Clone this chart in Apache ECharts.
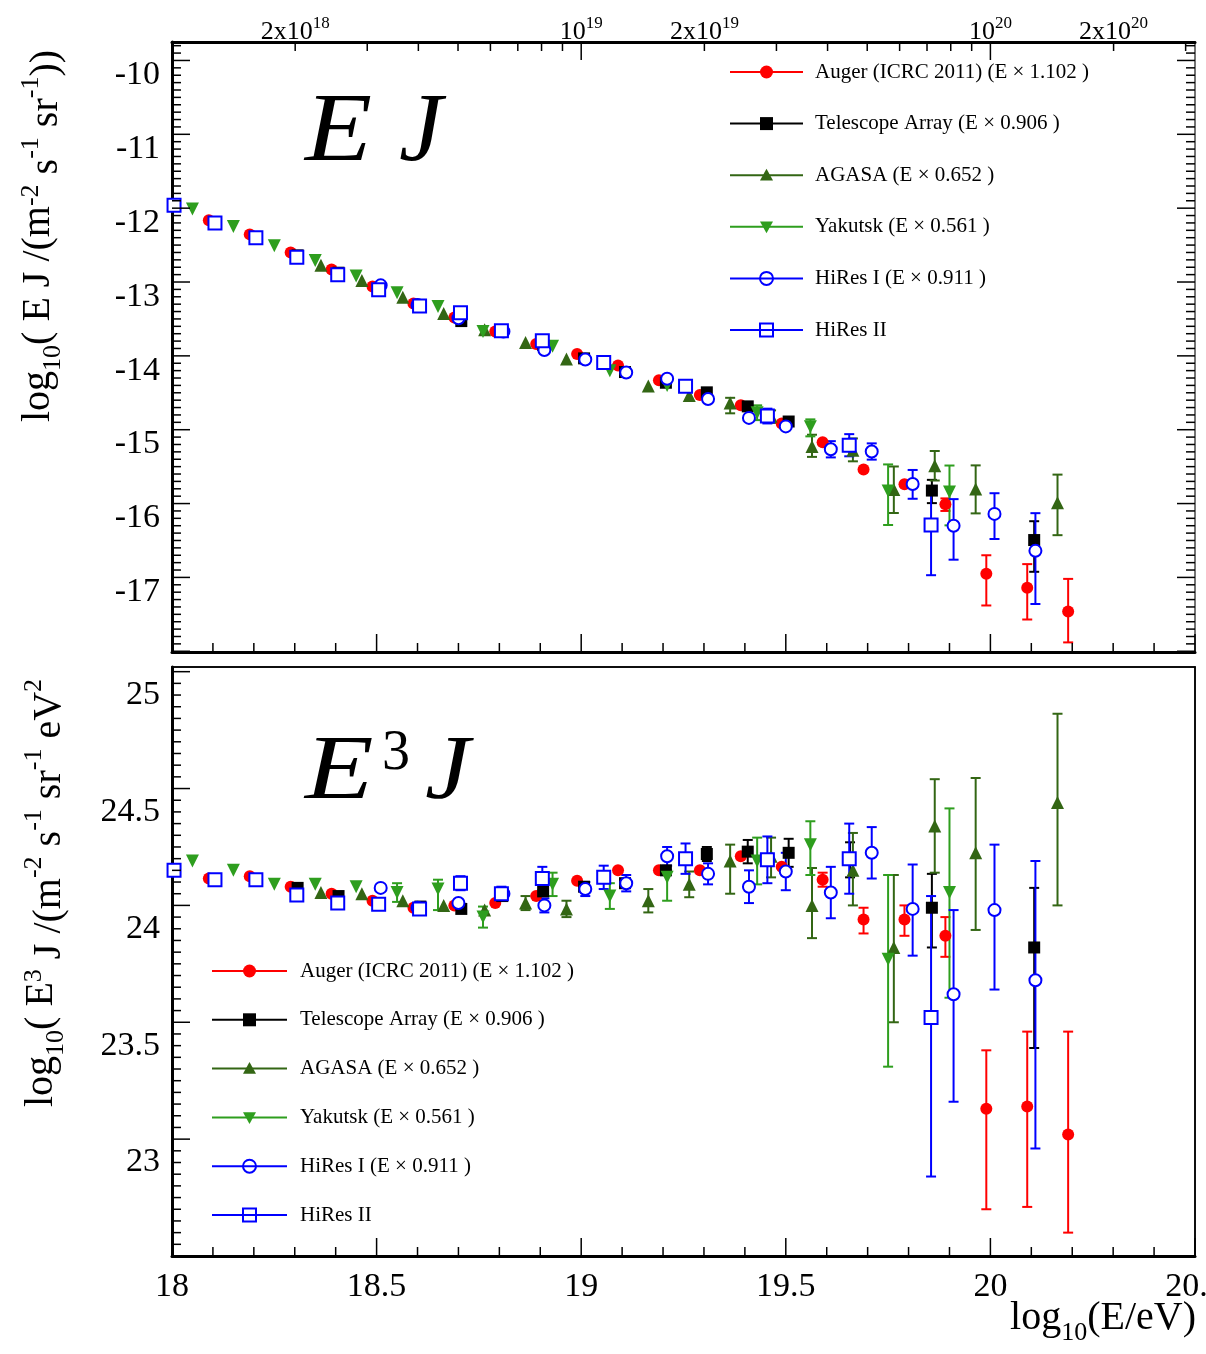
<!DOCTYPE html>
<html>
<head>
<meta charset="utf-8">
<script src="https://cdn.jsdelivr.net/npm/echarts@6/dist/echarts.min.js"></script>
<style>
  html, body { margin: 0; padding: 0; background: #ffffff; }
  #chart { width: 1206px; height: 1354px; }
</style>
</head>
<body>
<div id="chart"></div>
<script>
// Cosmic-ray spectra: x is log10(E/eV), y is log10(E^3 J / (m^-2 s^-1 sr^-1 eV^2)),
// errors are given upward / downward in the same log units.

const augerLogE  = [18.09, 18.19, 18.29, 18.39, 18.49, 18.59, 18.69, 18.79, 18.89, 18.99, 19.09, 19.19, 19.29, 19.39, 19.49, 19.59, 19.69, 19.79, 19.89, 19.99, 20.09, 20.19];
const augerE3J   = [24.215, 24.225, 24.18, 24.15, 24.12, 24.09, 24.10, 24.11, 24.14, 24.205, 24.25, 24.25, 24.25, 24.31, 24.265, 24.21, 24.04, 24.04, 23.97, 23.23, 23.24, 23.12];
const augerUp    = [0.004, 0.004, 0.004, 0.005, 0.005, 0.006, 0.006, 0.007, 0.008, 0.009, 0.01, 0.012, 0.015, 0.02, 0.025, 0.03, 0.05, 0.06, 0.08, 0.25, 0.32, 0.44];
const augerDown  = [0.004, 0.004, 0.004, 0.005, 0.005, 0.006, 0.006, 0.007, 0.008, 0.009, 0.01, 0.012, 0.015, 0.02, 0.025, 0.03, 0.06, 0.07, 0.09, 0.43, 0.43, 0.42];

const taLogE     = [18.207, 18.307, 18.407, 18.507, 18.607, 18.707, 18.807, 18.907, 19.007, 19.107, 19.207, 19.307, 19.407, 19.507, 19.657, 19.857, 20.107];
const taE3J      = [24.21, 24.175, 24.14, 24.11, 24.095, 24.085, 24.14, 24.16, 24.18, 24.195, 24.25, 24.32, 24.33, 24.325, 24.30, 24.09, 23.92];
const taUp       = [0.008, 0.008, 0.008, 0.009, 0.01, 0.011, 0.012, 0.014, 0.016, 0.02, 0.025, 0.03, 0.05, 0.06, 0.07, 0.145, 0.255];
const taDown     = [0.008, 0.008, 0.008, 0.009, 0.01, 0.011, 0.012, 0.014, 0.016, 0.02, 0.025, 0.03, 0.05, 0.06, 0.08, 0.17, 0.43];

const agasaLogE  = [18.364, 18.464, 18.564, 18.664, 18.764, 18.864, 18.964, 19.164, 19.264, 19.364, 19.464, 19.564, 19.664, 19.764, 19.864, 19.964, 20.164];
const agasaE3J   = [24.155, 24.15, 24.12, 24.10, 24.08, 24.11, 24.085, 24.12, 24.19, 24.29, 24.31, 24.10, 24.25, 23.92, 24.44, 24.325, 24.54];
const agasaUp    = [0.01, 0.015, 0.02, 0.02, 0.025, 0.03, 0.035, 0.05, 0.055, 0.07, 0.08, 0.16, 0.16, 0.31, 0.20, 0.32, 0.38];
const agasaDown  = [0.01, 0.015, 0.02, 0.02, 0.025, 0.03, 0.035, 0.05, 0.055, 0.14, 0.09, 0.14, 0.15, 0.32, 0.20, 0.33, 0.44];

const yakutskLogE = [18.05, 18.15, 18.25, 18.35, 18.45, 18.55, 18.65, 18.76, 18.93, 19.07, 19.21, 19.43, 19.56, 19.75, 19.90];
const yakutskE3J  = [24.29, 24.25, 24.19, 24.19, 24.18, 24.155, 24.17, 24.05, 24.19, 24.14, 24.22, 24.29, 24.36, 23.87, 24.155];
const yakutskUp   = [0.006, 0.008, 0.01, 0.015, 0.02, 0.04, 0.04, 0.045, 0.05, 0.055, 0.03, 0.1, 0.1, 0.36, 0.36];
const yakutskDown = [0.006, 0.008, 0.01, 0.015, 0.02, 0.04, 0.09, 0.045, 0.05, 0.055, 0.10, 0.1, 0.13, 0.46, 0.45];

const hires1LogE = [18.51, 18.60, 18.70, 18.81, 18.91, 19.01, 19.11, 19.21, 19.31, 19.41, 19.50, 19.61, 19.71, 19.81, 19.91, 20.01, 20.11];
const hires1E3J  = [24.175, 24.09, 24.11, 24.15, 24.10, 24.17, 24.195, 24.31, 24.235, 24.18, 24.245, 24.155, 24.325, 24.085, 23.72, 24.08, 23.78];
const hires1Up   = [0.01, 0.012, 0.015, 0.02, 0.03, 0.03, 0.035, 0.04, 0.045, 0.07, 0.08, 0.11, 0.11, 0.19, 0.36, 0.28, 0.51];
const hires1Down = [0.01, 0.012, 0.015, 0.02, 0.03, 0.03, 0.035, 0.04, 0.045, 0.07, 0.08, 0.11, 0.11, 0.20, 0.46, 0.34, 0.72];

const hires2LogE = [18.005, 18.105, 18.205, 18.305, 18.405, 18.505, 18.605, 18.705, 18.805, 18.905, 19.055, 19.255, 19.455, 19.655, 19.855];
const hires2E3J  = [24.25, 24.21, 24.21, 24.145, 24.11, 24.105, 24.085, 24.195, 24.15, 24.215, 24.22, 24.30, 24.295, 24.30, 23.62];
const hires2Up   = [0.005, 0.005, 0.01, 0.01, 0.01, 0.015, 0.02, 0.03, 0.03, 0.05, 0.05, 0.065, 0.1, 0.15, 0.52];
const hires2Down = [0.005, 0.005, 0.01, 0.01, 0.01, 0.015, 0.02, 0.03, 0.03, 0.05, 0.05, 0.065, 0.1, 0.15, 0.68];

const seriesNames = [
  'Auger (ICRC 2011) (E × 1.102 )',
  'Telescope Array (E × 0.906 )',
  'AGASA (E × 0.652 )',
  'Yakutsk (E × 0.561 )',
  'HiRes I (E × 0.911 )',
  'HiRes II'
];

// Axis tick labels
const xTickLabels = ['18', '18.5', '19', '19.5', '20', '20.5'];
const ejTickLabels = ['-17', '-16', '-15', '-14', '-13', '-12', '-11', '-10'];
const e3jTickLabels = ['23', '23.5', '24', '24.5', '25'];
const topEnergyLabels = ['2x10^18', '10^19', '2x10^19', '10^20', '2x10^20'];
const topEnergyValues = [2e18, 1e19, 2e19, 1e20, 2e20];

const FONT = '"Liberation Serif", "DejaVu Serif", serif';

const experiments = [
  { name: seriesNames[0], x: augerLogE,   y: augerE3J,   up: augerUp,   down: augerDown,   color: '#ff0000', symbol: 'circle',      size: 12, rotate: 0 },
  { name: seriesNames[1], x: taLogE,      y: taE3J,      up: taUp,      down: taDown,      color: '#000000', symbol: 'rect',        size: 12, rotate: 0 },
  { name: seriesNames[2], x: agasaLogE,   y: agasaE3J,   up: agasaUp,   down: agasaDown,   color: '#336614', symbol: 'triangle',    size: 13, rotate: 0 },
  { name: seriesNames[3], x: yakutskLogE, y: yakutskE3J, up: yakutskUp, down: yakutskDown, color: '#2e9e1e', symbol: 'triangle',    size: 13, rotate: 180 },
  { name: seriesNames[4], x: hires1LogE,  y: hires1E3J,  up: hires1Up,  down: hires1Down,  color: '#0000ff', symbol: 'emptyCircle', size: 12, rotate: 0 },
  { name: seriesNames[5], x: hires2LogE,  y: hires2E3J,  up: hires2Up,  down: hires2Down,  color: '#0000ff', symbol: 'emptyRect',   size: 13, rotate: 0 }
];

// log10(EJ) = log10(E^3 J) - 2 log10(E)
function toEJ(logE, e3j) { return e3j - 2 * logE; }

const EJ_MIN = -17.81, EJ_MAX = -9.55;
const E3J_MIN = 22.6, E3J_MAX = 25.12;

function errorBarRenderer(color) {
  return function (params, api) {
    const x = api.value(0), y = api.value(1), up = api.value(2), dn = api.value(3);
    const top = api.coord([x, y + up]);
    const bot = api.coord([x, y - dn]);
    if (bot[1] - top[1] < 12) return { type: 'group', children: [] };
    const cap = 5;
    const st = { stroke: color, lineWidth: 2 };
    return {
      type: 'group',
      children: [
        { type: 'line', shape: { x1: top[0], y1: top[1], x2: bot[0], y2: bot[1] }, style: st },
        { type: 'line', shape: { x1: top[0] - cap, y1: top[1], x2: top[0] + cap, y2: top[1] }, style: st },
        { type: 'line', shape: { x1: bot[0] - cap, y1: bot[1], x2: bot[0] + cap, y2: bot[1] }, style: st }
      ]
    };
  };
}

// Tick marks drawn inward on every frame side, placed through the axes' scales.
function tickSeries(xIdx, yIdx, ticks) {
  return {
    type: 'custom', xAxisIndex: xIdx, yAxisIndex: yIdx, silent: true, z: 20, clip: false,
    data: [[18, 0]],
    renderItem(params, api) {
      const r = params.coordSys;
      const children = [];
      ticks.forEach(t => {
        let s;
        if (t.side === 'bottom' || t.side === 'top') {
          const px = api.coord([t.v, 0])[0];
          const y0 = t.side === 'bottom' ? r.y + r.height : r.y;
          const y1 = t.side === 'bottom' ? y0 - t.len : y0 + t.len;
          s = { x1: px, y1: y0, x2: px, y2: y1 };
        } else {
          const py = api.coord([18, t.v])[1];
          const x0 = t.side === 'left' ? r.x : r.x + r.width;
          const x1 = t.side === 'left' ? x0 + t.len : x0 - t.len;
          s = { x1: x0, y1: py, x2: x1, y2: py };
        }
        children.push({ type: 'line', shape: s, style: { stroke: '#000', lineWidth: t.w || 1.5 } });
      });
      return { type: 'group', children };
    }
  };
}

function linearTicks(side, from, to, step, majorEvery, majorLen, minorLen) {
  const out = [];
  const n = Math.round((to - from) / step);
  for (let i = 0; i <= n; i++) {
    const v = Math.round((from + i * step) * 1000) / 1000;
    const major = i % majorEvery === 0;
    out.push({ side, v, len: major ? majorLen : minorLen });
  }
  return out;
}

// upper panel ticks
const upperTicks = [].concat(
  linearTicks('bottom', 18, 20.5, 0.1, 5, 18, 9),
  linearTicks('left', -17.8, -9.6, 0.1, 10, 18, 9),
  linearTicks('right', -17.8, -9.6, 0.1, 10, 18, 9)
);
// logarithmic energy ticks along the top of the upper panel
for (let dec = 18; dec <= 20; dec++) {
  for (let k = 1; k <= 9; k++) {
    const v = Math.log10(k) + dec;
    if (v > 20.5 + 1e-9) continue;
    upperTicks.push({ side: 'top', v, len: k === 1 ? 18 : 9 });
  }
}
// lower panel ticks
const lowerTicks = [].concat(
  linearTicks('bottom', 18, 20.5, 0.1, 5, 18, 9),
  linearTicks('left', 22.6, 25.1, 0.05, 10, 18, 9)
);

const series = [];
experiments.forEach(ex => {
  const lowerRows = ex.x.map((x, i) => [x, ex.y[i], ex.up[i], ex.down[i]]);
  const upperRows = ex.x.map((x, i) => [x, toEJ(x, ex.y[i]), ex.up[i], ex.down[i]]);
  [[0, 0, upperRows], [2, 2, lowerRows]].forEach(([xi, yi, rows]) => {
    series.push({
      type: 'custom', name: ex.name, xAxisIndex: xi, yAxisIndex: yi, silent: true, clip: true,
      renderItem: errorBarRenderer(ex.color), data: rows, z: 5
    });
    series.push({
      type: 'scatter', name: ex.name, xAxisIndex: xi, yAxisIndex: yi, silent: true,
      symbol: ex.symbol, symbolSize: ex.size, symbolRotate: ex.rotate,
      itemStyle: { color: ex.color, borderWidth: ex.symbol.indexOf('empty') === 0 ? 2 : 0, opacity: 1 },
      data: rows.map(r => [r[0], r[1]]), z: 5
    });
  });
});
series.push(tickSeries(0, 0, upperTicks));
series.push(tickSeries(2, 2, lowerTicks));

// Legend boxes, built from the experiment list
function legendGraphics(x0, y0, gap, lineLen, textX) {
  const els = [];
  experiments.forEach((ex, i) => {
    const cy = y0 + i * gap;
    const cx = x0 + lineLen / 2;
    els.push({ type: 'line', shape: { x1: x0, y1: cy, x2: x0 + lineLen, y2: cy }, style: { stroke: ex.color, lineWidth: 2 }, z: 30 });
    const h = 6.5;
    let mk;
    if (ex.symbol === 'circle') mk = { type: 'circle', shape: { cx, cy, r: h }, style: { fill: ex.color } };
    else if (ex.symbol === 'rect') mk = { type: 'rect', shape: { x: cx - h, y: cy - h, width: 2 * h, height: 2 * h }, style: { fill: ex.color } };
    else if (ex.symbol === 'triangle' && ex.rotate === 0) mk = { type: 'polygon', shape: { points: [[cx, cy - h], [cx + h, cy + h * 0.8], [cx - h, cy + h * 0.8]] }, style: { fill: ex.color } };
    else if (ex.symbol === 'triangle') mk = { type: 'polygon', shape: { points: [[cx, cy + h], [cx + h, cy - h * 0.8], [cx - h, cy - h * 0.8]] }, style: { fill: ex.color } };
    else if (ex.symbol === 'emptyCircle') mk = { type: 'circle', shape: { cx, cy, r: h }, style: { fill: 'none', stroke: ex.color, lineWidth: 2 } };
    else mk = { type: 'rect', shape: { x: cx - h, y: cy - h, width: 2 * h, height: 2 * h }, style: { fill: 'none', stroke: ex.color, lineWidth: 2 } };
    mk.z = 31;
    els.push(mk);
    els.push({ type: 'text', x: textX, y: cy, z: 31, style: { text: ex.name, font: '21px ' + FONT, fill: '#000', textVerticalAlign: 'middle' } });
  });
  return els;
}

const richTitle = {
  m: { fontFamily: FONT, fontSize: 40, color: '#000', verticalAlign: 'bottom' },
  sup: { fontFamily: FONT, fontSize: 26, color: '#000', verticalAlign: 'top', padding: [0, 0, 22, 0] },
  mt: { fontFamily: FONT, fontSize: 40, color: '#000', verticalAlign: 'top' },
  subl: { fontFamily: FONT, fontSize: 26, color: '#000', verticalAlign: 'bottom', padding: [22, 0, 0, 0] }
};

const graphics = [].concat(
  legendGraphics(730, 72, 51.6, 73, 815),
  legendGraphics(212, 971, 48.8, 75, 300),
  [
    { type: 'text', x: 305, y: 183, scaleX: 1.12, z: 30, style: { text: 'E', font: 'italic 98px ' + FONT, fill: '#000', textVerticalAlign: 'bottom' } },
    { type: 'text', x: 399, y: 183, z: 30, style: { text: 'J', font: 'italic 98px ' + FONT, fill: '#000', textVerticalAlign: 'bottom' } },
    { type: 'text', x: 305, y: 820, scaleX: 1.22, z: 30, style: { text: 'E', font: 'italic 92px ' + FONT, fill: '#000', textVerticalAlign: 'bottom' } },
    { type: 'text', x: 382, y: 782, z: 30, style: { text: '3', font: '56px ' + FONT, fill: '#000', textVerticalAlign: 'bottom' } },
    { type: 'text', x: 425, y: 820, scaleX: 1.1, z: 30, style: { text: 'J', font: 'italic 92px ' + FONT, fill: '#000', textVerticalAlign: 'bottom' } },
    {
      type: 'text', x: 42, y: 236, rotation: Math.PI / 2, z: 30,
      style: {
        text: '{mt|log}{subl|10}{mt|( E J /(m}{sup|-2}{m| s}{sup|-1}{m| sr}{sup|-1}{m|))}',
        rich: richTitle, align: 'center', verticalAlign: 'middle'
      }
    },
    {
      type: 'text', x: 45, y: 893, rotation: Math.PI / 2, z: 30,
      style: {
        text: '{mt|log}{subl|10}{mt|( E}{sup|3}{m| J /(m}{sup|-2}{m| s}{sup|-1}{m| sr}{sup|-1}{m| eV}{sup|2}',
        rich: richTitle, align: 'center', verticalAlign: 'middle'
      }
    },
    {
      type: 'text', x: 1196, y: 1322, z: 30,
      style: {
        text: '{mt|log}{subl|10}{mt|(E/eV)}',
        rich: richTitle, align: 'right', verticalAlign: 'middle'
      }
    }
  ]
);

function labelNumberFormatter(list) {
  return function (v) {
    for (const s of list) if (Math.abs(parseFloat(s) - v) < 1e-6) return s;
    return '';
  };
}

const topLabelRich = {
  b: { fontFamily: FONT, fontSize: 26, color: '#000', verticalAlign: 'bottom' },
  s: { fontFamily: FONT, fontSize: 17, color: '#000', verticalAlign: 'top', padding: [0, 0, 13, 0] }
};

const option = {
  animation: false,
  backgroundColor: '#ffffff',
  grid: [
    { left: 172, top: 42, width: 1023, height: 610, show: true, borderColor: '#000', borderWidth: 1.5, backgroundColor: 'transparent', containLabel: false, outerBoundsMode: 'none' },
    { left: 172, top: 667, width: 1023, height: 589, show: true, borderColor: '#000', borderWidth: 1.5, backgroundColor: 'transparent', containLabel: false, outerBoundsMode: 'none' }
  ],
  xAxis: [
    { type: 'value', gridIndex: 0, position: 'bottom', min: 18, max: 20.5, interval: 0.5,
      axisLine: { show: true, lineStyle: { color: '#000', width: 3 } }, axisTick: { show: false },
      axisLabel: { show: false }, splitLine: { show: false } },
    { type: 'value', gridIndex: 0, position: 'top', min: 18, max: 20.5,
      axisLine: { show: true, lineStyle: { color: '#000', width: 3 } }, axisTick: { show: false }, splitLine: { show: false },
      axisLabel: {
        show: true, margin: -3, customValues: topEnergyValues.map(e => Math.log10(e)),
        formatter: function (v) {
          let best = 0;
          topEnergyValues.forEach((e, i) => { if (Math.abs(Math.log10(e) - v) < Math.abs(Math.log10(topEnergyValues[best]) - v)) best = i; });
          const parts = topEnergyLabels[best].split('^');
          return '{b|' + parts[0] + '}{s|' + parts[1] + '}';
        },
        rich: topLabelRich
      } },
    { type: 'value', gridIndex: 1, position: 'bottom', min: 18, max: 20.5, interval: 0.5,
      axisLine: { show: true, lineStyle: { color: '#000', width: 3 } }, axisTick: { show: false }, splitLine: { show: false },
      axisLabel: { show: true, margin: 14, fontFamily: FONT, fontSize: 34, color: '#000',
        customValues: xTickLabels.map(Number), formatter: labelNumberFormatter(xTickLabels), showMaxLabel: true } },
    { type: 'value', gridIndex: 1, position: 'top', min: 18, max: 20.5,
      axisLine: { show: true, lineStyle: { color: '#000', width: 1.5 } }, axisTick: { show: false },
      axisLabel: { show: false }, splitLine: { show: false } }
  ],
  yAxis: [
    { type: 'value', gridIndex: 0, position: 'left', min: EJ_MIN, max: EJ_MAX,
      axisLine: { show: true, lineStyle: { color: '#000', width: 3 } }, axisTick: { show: false }, splitLine: { show: false },
      axisLabel: { show: true, margin: 12, fontFamily: FONT, fontSize: 34, color: '#000',
        customValues: ejTickLabels.map(Number), formatter: labelNumberFormatter(ejTickLabels) } },
    { type: 'value', gridIndex: 0, position: 'right', min: EJ_MIN, max: EJ_MAX,
      axisLine: { show: true, lineStyle: { color: '#888', width: 1.5 } }, axisTick: { show: false },
      axisLabel: { show: false }, splitLine: { show: false } },
    { type: 'value', gridIndex: 1, position: 'left', min: E3J_MIN, max: E3J_MAX,
      axisLine: { show: true, lineStyle: { color: '#000', width: 3 } }, axisTick: { show: false }, splitLine: { show: false },
      axisLabel: { show: true, margin: 12, fontFamily: FONT, fontSize: 34, color: '#000',
        customValues: e3jTickLabels.map(Number), formatter: labelNumberFormatter(e3jTickLabels) } },
    { type: 'value', gridIndex: 1, position: 'right', min: E3J_MIN, max: E3J_MAX,
      axisLine: { show: true, lineStyle: { color: '#000', width: 1.5 } }, axisTick: { show: false },
      axisLabel: { show: false }, splitLine: { show: false } }
  ],
  graphic: graphics,
  series: series
};

const chart = echarts.init(document.getElementById('chart'), null, { renderer: 'canvas' });
chart.setOption(option);
</script>
</body>
</html>
